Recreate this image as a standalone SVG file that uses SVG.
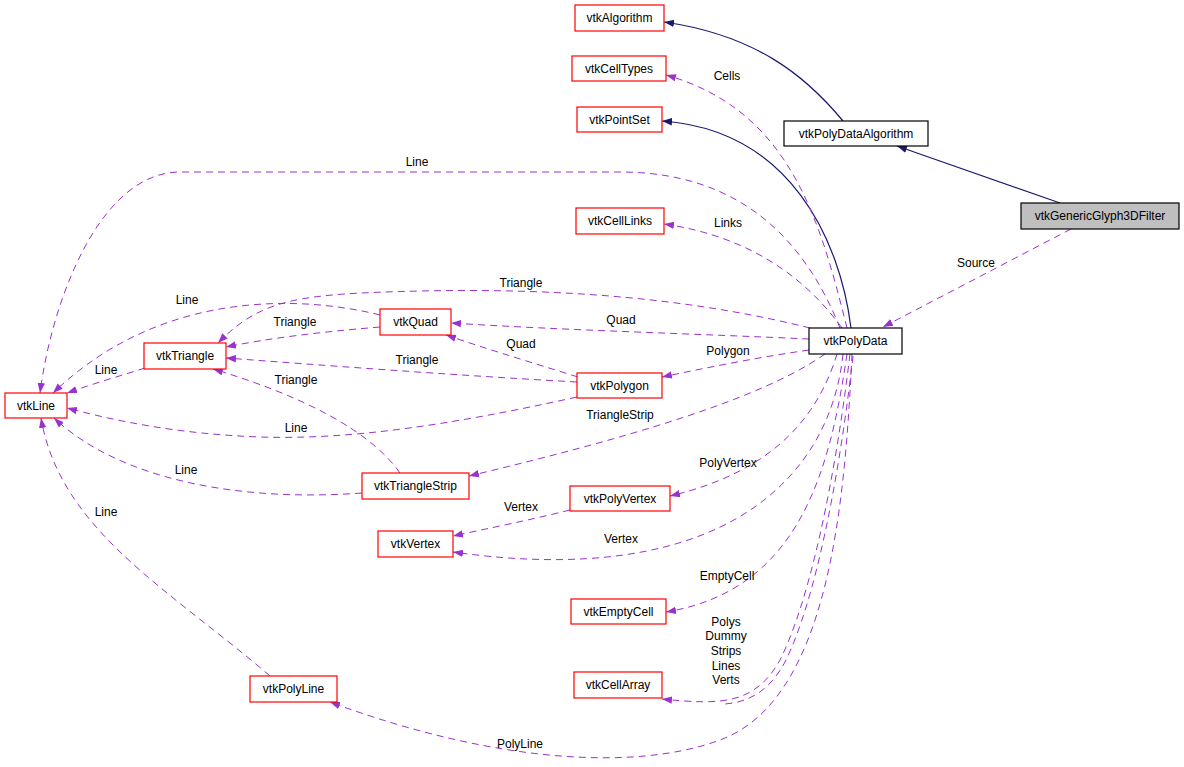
<svg xmlns="http://www.w3.org/2000/svg" width="1184" height="767" viewBox="0 0 1184 767">
<style>
.n rect{fill:#fff;stroke:#ff0000;stroke-width:1.2}
.n.b rect{stroke:#000}
.n.g rect{fill:#bfbfbf;stroke:#000}
text{font-family:"Liberation Sans",Arial,sans-serif;font-size:12px;fill:#000;text-anchor:middle}
.d{fill:none;stroke:#9a32cd;stroke-width:1;stroke-dasharray:7,5;marker-end:url(#ap)}
.d2{fill:none;stroke:#9a32cd;stroke-width:1;stroke-dasharray:7,5}
.s{fill:none;stroke:#191970;stroke-width:1.2;marker-end:url(#an)}
</style>
<defs>
<marker id="ap" markerUnits="userSpaceOnUse" markerWidth="12" markerHeight="10" refX="10" refY="4.5" orient="auto"><path d="M0,0.8 L10,4.5 L0,8.2 z" fill="#9a32cd"/></marker>
<marker id="an" markerUnits="userSpaceOnUse" markerWidth="12" markerHeight="10" refX="10" refY="4.5" orient="auto"><path d="M0,0.8 L10,4.5 L0,8.2 z" fill="#191970"/></marker>
</defs>
<rect width="1184" height="767" fill="#fff"/>
<g id="edges">
<path class="s" d="M 843,121 C 805,75 755,35 664,22"/>
<path class="s" d="M 1060,203 L 897,146"/>
<path class="s" d="M 851,328 C 840,240 790,130 662,121"/>
<path class="d" d="M 1071,229 L 883,327"/>
<path class="d" d="M 847,328 C 820,220 790,110 666,75"/>
<path class="d" d="M 842,328 C 800,270 740,235 664,224"/>
<path class="d" d="M 840,328 C 805,240 740,172 620,172 L 180,172 C 100,172 52,300 40,393"/>
<path class="d" d="M 810,328 C 690,298 560,288 420,291 C 300,294 262,298 218,343"/>
<path class="d" d="M 809,339 C 700,334 560,330 451,323"/>
<path class="d" d="M 809,350 C 760,357 710,367 662,377"/>
<path class="d" d="M 825,354 C 760,400 620,440 469,476"/>
<path class="d" d="M 837,354 C 820,410 780,470 670,496"/>
<path class="d" d="M 843,354 C 830,480 720,590 453,552"/>
<path class="d" d="M 847,354 C 830,470 800,590 666,612"/>
<path class="d" d="M 850,354 C 835,480 810,600 780,660 C 755,705 720,705 662,699"/>
<path class="d2" d="M 853,356 C 839,480 815,602 785,662 C 770,690 750,702 725,704"/>
<path class="d" d="M 852,354 C 845,500 830,700 720,740 C 640,770 500,765 330,702"/>
<path class="d" d="M 380,327 C 320,332 270,338 226,347"/>
<path class="d" d="M 380,315 C 300,295 160,290 53,393"/>
<path class="d" d="M 145,368 C 120,376 95,383 67,393"/>
<path class="d" d="M 578,377 C 530,362 490,350 446,335"/>
<path class="d" d="M 577,382 C 450,375 320,365 226,358"/>
<path class="d" d="M 577,397 C 450,425 350,440 260,437 C 180,434 120,422 67,408"/>
<path class="d" d="M 400,473 C 370,430 300,395 213,369"/>
<path class="d" d="M 362,493 C 240,502 120,480 54,418"/>
<path class="d" d="M 270,676 C 170,590 60,530 41,418"/>
<path class="d" d="M 570,510 C 530,520 490,528 453,536"/>
</g>
<g id="edge-labels">
<text x="976" y="267">Source</text>
<text x="727" y="80">Cells</text>
<text x="728" y="227">Links</text>
<text x="417" y="166">Line</text>
<text x="521" y="287">Triangle</text>
<text x="621" y="324">Quad</text>
<text x="728" y="355">Polygon</text>
<text x="620" y="419">TriangleStrip</text>
<text x="728" y="467">PolyVertex</text>
<text x="621" y="543">Vertex</text>
<text x="727" y="580">EmptyCell</text>
<text x="726" y="626">Polys</text>
<text x="726" y="640">Dummy</text>
<text x="726" y="655">Strips</text>
<text x="726" y="670">Lines</text>
<text x="726" y="684">Verts</text>
<text x="520" y="748">PolyLine</text>
<text x="295" y="326">Triangle</text>
<text x="187" y="304">Line</text>
<text x="106" y="374">Line</text>
<text x="521" y="348">Quad</text>
<text x="417" y="364">Triangle</text>
<text x="296" y="432">Line</text>
<text x="296" y="384">Triangle</text>
<text x="186" y="474">Line</text>
<text x="106" y="516">Line</text>
<text x="521" y="511">Vertex</text>
</g>
<g id="vtkAlgorithm" class="n"><rect x="575" y="5" width="89" height="26"/><text x="619.5" y="22">vtkAlgorithm</text></g>
<g id="vtkCellTypes" class="n"><rect x="572" y="56" width="94" height="25"/><text x="619" y="73">vtkCellTypes</text></g>
<g id="vtkPointSet" class="n"><rect x="577" y="107" width="85" height="25"/><text x="619.5" y="124">vtkPointSet</text></g>
<g id="vtkPolyDataAlgorithm" class="n b"><rect x="784" y="121" width="144" height="25"/><text x="856" y="138">vtkPolyDataAlgorithm</text></g>
<g id="vtkGenericGlyph3DFilter" class="n g"><rect x="1021" y="203" width="158" height="26"/><text x="1100" y="220">vtkGenericGlyph3DFilter</text></g>
<g id="vtkCellLinks" class="n"><rect x="576" y="208" width="88" height="26"/><text x="620" y="225">vtkCellLinks</text></g>
<g id="vtkPolyData" class="n b"><rect x="809" y="328" width="93" height="26"/><text x="855.5" y="345">vtkPolyData</text></g>
<g id="vtkQuad" class="n"><rect x="380" y="309" width="71" height="26"/><text x="415.5" y="326">vtkQuad</text></g>
<g id="vtkTriangle" class="n"><rect x="144" y="343" width="82" height="26"/><text x="185" y="360">vtkTriangle</text></g>
<g id="vtkPolygon" class="n"><rect x="577" y="373" width="85" height="25"/><text x="619.5" y="390">vtkPolygon</text></g>
<g id="vtkLine" class="n"><rect x="5" y="393" width="62" height="25"/><text x="36" y="410">vtkLine</text></g>
<g id="vtkTriangleStrip" class="n"><rect x="362" y="473" width="107" height="26"/><text x="415.5" y="490">vtkTriangleStrip</text></g>
<g id="vtkPolyVertex" class="n"><rect x="570" y="486" width="100" height="25"/><text x="620" y="503">vtkPolyVertex</text></g>
<g id="vtkVertex" class="n"><rect x="378" y="531" width="75" height="26"/><text x="415.5" y="548">vtkVertex</text></g>
<g id="vtkEmptyCell" class="n"><rect x="571" y="599" width="95" height="25"/><text x="618.5" y="616">vtkEmptyCell</text></g>
<g id="vtkCellArray" class="n"><rect x="574" y="672" width="88" height="26"/><text x="618" y="689">vtkCellArray</text></g>
<g id="vtkPolyLine" class="n"><rect x="250" y="676" width="87" height="26"/><text x="293.5" y="693">vtkPolyLine</text></g>
</svg>
